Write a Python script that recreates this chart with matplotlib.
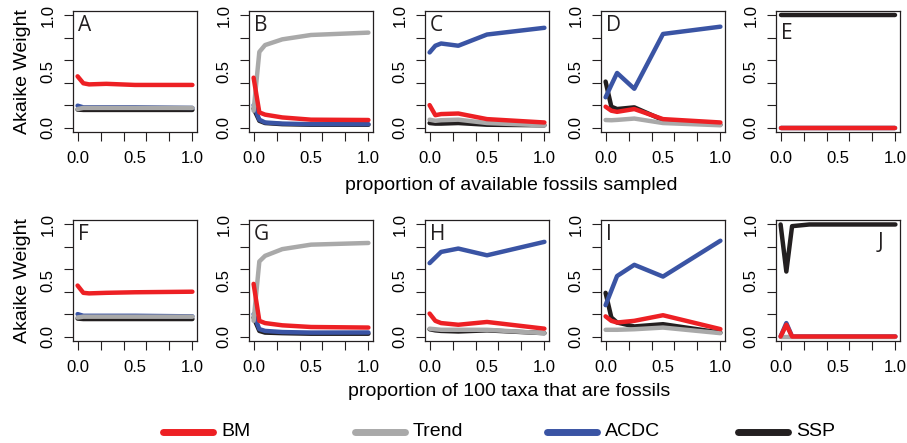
import matplotlib
matplotlib.use("Agg")
import matplotlib.pyplot as plt
from matplotlib.lines import Line2D
import numpy as np

plt.rcParams['font.family'] = ['Liberation Sans', 'DejaVu Sans']

# proportion sampled
x = [0.0, 0.05, 0.1, 0.25, 0.5, 1.0]

panels = ['A', 'B', 'C', 'D', 'E', 'F', 'G', 'H', 'I', 'J']

bm = {
    'A': [0.457, 0.395, 0.385, 0.39, 0.38, 0.38],
    'B': [0.445, 0.135, 0.115, 0.09, 0.07, 0.067],
    'C': [0.20, 0.11, 0.12, 0.125, 0.075, 0.045],
    'D': [0.186, 0.15, 0.14, 0.165, 0.075, 0.045],
    'E': [0.0, 0.0, 0.0, 0.0, 0.0, 0.0],
    'F': [0.455, 0.39, 0.385, 0.39, 0.395, 0.40],
    'G': [0.47, 0.14, 0.12, 0.10, 0.085, 0.08],
    'H': [0.205, 0.14, 0.12, 0.105, 0.13, 0.07],
    'I': [0.18, 0.14, 0.125, 0.14, 0.19, 0.066],
    'J': [0.0, 0.105, 0.0, 0.0, 0.0, 0.0],
}
trend = {
    'A': [0.165, 0.175, 0.175, 0.175, 0.175, 0.175],
    'B': [0.15, 0.675, 0.736, 0.787, 0.826, 0.847],
    'C': [0.07, 0.06, 0.065, 0.07, 0.04, 0.02],
    'D': [0.067, 0.065, 0.068, 0.08, 0.04, 0.02],
    'E': [0.0, 0.0, 0.0, 0.0, 0.0, 0.0],
    'F': [0.17, 0.177, 0.177, 0.177, 0.177, 0.177],
    'G': [0.14, 0.67, 0.72, 0.78, 0.82, 0.835],
    'H': [0.07, 0.065, 0.06, 0.06, 0.06, 0.03],
    'I': [0.06, 0.06, 0.06, 0.065, 0.08, 0.03],
    'J': [0.0, 0.0, 0.0, 0.0, 0.0, 0.0],
}
acdc = {
    'A': [0.195, 0.18, 0.18, 0.18, 0.18, 0.175],
    'B': [0.20, 0.07, 0.045, 0.035, 0.03, 0.03],
    'C': [0.67, 0.73, 0.75, 0.73, 0.83, 0.89],
    'D': [0.27, 0.38, 0.487, 0.346, 0.835, 0.90],
    'E': [0.0, 0.0, 0.0, 0.0, 0.0, 0.0],
    'F': [0.20, 0.185, 0.185, 0.185, 0.185, 0.18],
    'G': [0.20, 0.066, 0.05, 0.04, 0.035, 0.036],
    'H': [0.655, 0.705, 0.755, 0.785, 0.725, 0.845],
    'I': [0.28, 0.41, 0.54, 0.64, 0.535, 0.855],
    'J': [0.0, 0.12, 0.0, 0.0, 0.0, 0.0],
}
ssp = {
    'A': [0.16, 0.157, 0.157, 0.157, 0.157, 0.157],
    'B': [0.17, 0.06, 0.04, 0.03, 0.025, 0.025],
    'C': [0.04, 0.035, 0.035, 0.04, 0.025, 0.02],
    'D': [0.41, 0.186, 0.165, 0.18, 0.067, 0.025],
    'E': [1.0, 1.0, 1.0, 1.0, 1.0, 1.0],
    'F': [0.16, 0.156, 0.156, 0.156, 0.156, 0.156],
    'G': [0.17, 0.05, 0.035, 0.03, 0.025, 0.025],
    'H': [0.065, 0.055, 0.05, 0.045, 0.055, 0.03],
    'I': [0.39, 0.17, 0.125, 0.09, 0.11, 0.035],
    'J': [1.0, 0.58, 0.985, 1.0, 1.0, 1.0],
}

models = ['BM', 'Trend', 'ACDC', 'SSP']
colors = {'BM': '#ED2024', 'Trend': '#A9A9A9', 'ACDC': '#3A54A4', 'SSP': '#231F20'}
series = {'BM': bm, 'Trend': trend, 'ACDC': acdc, 'SSP': ssp}
draw_order = ['SSP', 'ACDC', 'Trend', 'BM']

row_labels = ['proportion of available fossils sampled',
              'proportion of 100 taxa that are fossils']

W, H = 907, 443
fig = plt.figure(figsize=(W / 100, H / 100), dpi=100)

lefts = [73, 249, 425, 601, 776]
tops = [11, 220]
aw, ah = 124, 121

for i, p in enumerate(panels):
    r, c = divmod(i, 5)
    ax = fig.add_axes([lefts[c] / W, 1 - (tops[r] + ah) / H, aw / W, ah / H])
    for m in draw_order:
        ax.plot(x, series[m][p], color=colors[m], lw=3.2,
                solid_capstyle='round', solid_joinstyle='round')
    ax.set_xlim(-0.04, 1.04)
    ax.set_ylim(-0.04, 1.04)
    ticks = np.linspace(0, 1, 6)
    ax.set_xticks(ticks)
    ax.set_yticks(ticks)
    ax.set_xticklabels(['0.0', '', '', '', '', '1.0'])
    ax.set_yticklabels(['0.0', '', '', '', '', '1.0'], rotation=90, va='center')
    ax.set_xticks([0.5], minor=True)
    ax.set_yticks([0.5], minor=True)
    ax.set_xticklabels(['0.5'], minor=True)
    ax.set_yticklabels(['0.5'], minor=True, rotation=90, va='center')
    ax.tick_params(which='major', length=6.5, width=0.8, labelsize=12,
                   color='#231F20')
    ax.tick_params(axis='x', which='major', pad=7)
    ax.tick_params(axis='y', which='major', pad=6)
    ax.tick_params(which='minor', length=0, labelsize=12)
    ax.tick_params(axis='x', which='minor', pad=13.5)
    ax.tick_params(axis='y', which='minor', pad=12.5)
    for s in ax.spines.values():
        s.set_linewidth(0.9)
        s.set_color('#231F20')
    if p == 'E':
        lx, ly = 0.04, 0.90
    elif p == 'J':
        lx, ly = 0.82, 0.90
    else:
        lx, ly = 0.04, 0.965
    ax.text(lx, ly, p, transform=ax.transAxes, ha='left', va='top',
            fontsize=15, family=['Open Sans', 'DejaVu Sans'], color='#231F20')
    if c == 0:
        ax.set_ylabel('Akaike Weight', fontsize=14, labelpad=7)

fig.text(511 / W, 1 - 186 / H, row_labels[0], ha='center', va='center', fontsize=14)
fig.text(509 / W, 1 - 392 / H, row_labels[1], ha='center', va='center', fontsize=14)

# legend along the bottom
leg_x = [163, 355, 547, 738]
leg_y = 1 - 432 / H
for m, lx in zip(models, leg_x):
    fig.add_artist(Line2D([lx / W, (lx + 50) / W], [leg_y, leg_y], color=colors[m],
                          lw=5, solid_capstyle='round', transform=fig.transFigure))
    fig.text((lx + 58) / W, leg_y, m, ha='left', va='center', fontsize=14)

fig.savefig('out.png', dpi=100)
